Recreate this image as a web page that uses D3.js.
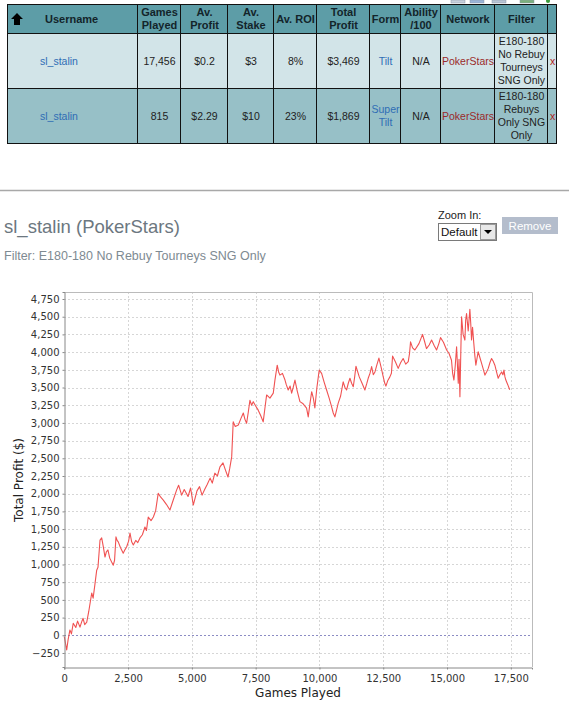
<!DOCTYPE html>
<html>
<head>
<meta charset="utf-8">
<script src="https://cdn.jsdelivr.net/npm/d3@7"></script>
<style>
  body { margin: 0; background: #fff; }
  svg { display: block; }
</style>
</head>
<body>
<svg id="page" width="569" height="717"></svg>
<script>
'use strict';

// table data
var headers = [['Username'], ['Games', 'Played'], ['Av.', 'Profit'], ['Av.', 'Stake'], ['Av. ROI'],
  ['Total', 'Profit'], ['Form'], ['Ability', '/100'], ['Network'], ['Filter'], ['']];
var usernames = ['sl_stalin', 'sl_stalin'];
var gamesPlayed = ['17,456', '815'];
var avProfit = ['$0.2', '$2.29'];
var avStake = ['$3', '$10'];
var avRoi = ['8%', '23%'];
var totalProfit = ['$3,469', '$1,869'];
var forms = [['Tilt'], ['Super', 'Tilt']];
var ability = ['N/A', 'N/A'];
var networks = ['PokerStars', 'PokerStars'];
var filters = [['E180-180', 'No Rebuy', 'Tourneys', 'SNG Only'], ['E180-180', 'Rebuys', 'Only SNG', 'Only']];

// chart data: [games played, total profit $]
var curve = [
  [0, -20], [94, -208], [150, -60], [220, 75], [280, 20], [350, 170], [450, 110], [520, 200],
  [615, 115], [680, 190], [735, 240], [800, 150], [880, 185], [960, 340], [1075, 597], [1130, 525],
  [1200, 720], [1270, 920], [1320, 960], [1400, 1345], [1465, 1375], [1530, 1250], [1595, 1105],
  [1650, 1180], [1710, 1205], [1780, 1090], [1855, 1035], [1920, 990], [1970, 1060], [2025, 1390],
  [2070, 1340], [2115, 1320], [2200, 1240], [2310, 1160], [2380, 1210], [2445, 1250], [2520, 1330],
  [2575, 1445], [2640, 1320], [2705, 1275], [2800, 1340], [2880, 1310], [2965, 1375], [3060, 1420],
  [3160, 1530], [3220, 1480], [3290, 1670], [3400, 1620], [3490, 1670], [3580, 1760], [3680, 2005],
  [3780, 1950], [3880, 1910], [4000, 1850], [4140, 1770], [4260, 1900], [4400, 2050], [4480, 2120],
  [4600, 1980], [4700, 2060], [4850, 1960], [4950, 2080], [5055, 1840], [5200, 2040], [5300, 2100],
  [5400, 1980], [5500, 2060], [5600, 2130], [5715, 2220], [5800, 2150], [5900, 2290], [6000, 2250],
  [6100, 2380], [6220, 2435], [6320, 2330], [6415, 2235], [6480, 2350], [6560, 2520], [6620, 3015],
  [6700, 2950], [6820, 2970], [6920, 3060], [7015, 3140], [7080, 3050], [7145, 2995], [7210, 3150],
  [7275, 3320], [7340, 3250], [7405, 3300], [7500, 3240], [7600, 3180], [7700, 3100], [7795, 3015],
  [7860, 3200], [7930, 3395], [8060, 3350], [8190, 3420], [8255, 3605], [8345, 3815], [8400, 3720],
  [8450, 3675], [8550, 3700], [8650, 3605], [8700, 3540], [8775, 3465], [8850, 3520], [8910, 3420],
  [8970, 3500], [9040, 3605], [9130, 3450], [9235, 3300], [9360, 3270], [9495, 3210], [9560, 3085],
  [9630, 3280], [9695, 3440], [9760, 3350], [9820, 3210], [9900, 3500], [9990, 3745], [10085, 3700],
  [10180, 3580], [10280, 3465], [10380, 3350], [10475, 3230], [10540, 3140], [10605, 3085],
  [10670, 3180], [10735, 3280], [10830, 3380], [10930, 3580], [11000, 3500], [11065, 3465],
  [11130, 3560], [11195, 3630], [11260, 3560], [11325, 3510], [11380, 3650], [11430, 3800],
  [11500, 3720], [11560, 3650], [11670, 3560], [11780, 3465], [11850, 3550], [11910, 3630],
  [11980, 3700], [12045, 3795], [12110, 3680], [12175, 3720], [12250, 3820], [12330, 3915],
  [12420, 3780], [12500, 3650], [12560, 3560], [12605, 3520], [12680, 3600], [12760, 3650],
  [12820, 3700], [12865, 3945], [12980, 3860], [13085, 3770], [13180, 3850], [13280, 3910],
  [13380, 3830], [13480, 3865], [13530, 3980], [13570, 4145], [13650, 4060], [13740, 4030],
  [13900, 4120], [14040, 4250], [14120, 4150], [14195, 4050], [14300, 4100], [14395, 4170],
  [14500, 4090], [14590, 4030], [14680, 4120], [14745, 4205], [14860, 4140], [14985, 4030],
  [15080, 3980], [15175, 3885], [15220, 3700], [15270, 3605], [15320, 3800], [15375, 4075],
  [15410, 3800], [15440, 3560], [15470, 3900], [15505, 3370], [15540, 4000], [15570, 4500],
  [15630, 4250], [15700, 4170], [15730, 4450], [15765, 4545], [15830, 4300], [15895, 4605],
  [15930, 4400], [15960, 4170], [16000, 4350], [16050, 4120], [16090, 3950], [16130, 3815],
  [16170, 3900], [16220, 4005], [16290, 3920], [16355, 3840], [16420, 3760], [16485, 3675],
  [16550, 3720], [16615, 3770], [16680, 3850], [16745, 3910], [16810, 3870], [16875, 3815],
  [16940, 3720], [17005, 3630], [17070, 3680], [17140, 3720], [17190, 3680], [17230, 3745],
  [17270, 3650], [17305, 3605], [17380, 3540], [17456, 3469]
];
var xTicks = [0, 2500, 5000, 7500, 10000, 12500, 15000, 17500];
var yTicks = d3.range(-250, 4751, 250);

var svg = d3.select('#page');
var TF = 'Liberation Sans, Arial, sans-serif';

// ---------- stats table ----------
var colX = [7, 137, 180, 227, 273, 316, 369, 400, 440, 494, 547, 556];
var rowY = [4, 33, 88, 143];
var rowFill = ['#5d9da7', '#d2e4e8', '#97c0c7'];

var table = svg.append('g');
for (var r = 0; r < 3; r++) {
  table.append('rect')
    .attr('x', colX[0]).attr('y', rowY[r])
    .attr('width', colX[colX.length - 1] - colX[0]).attr('height', rowY[r + 1] - rowY[r])
    .attr('fill', rowFill[r]);
}
colX.forEach(function (x) {
  table.append('line').attr('x1', x + 0.5).attr('x2', x + 0.5)
    .attr('y1', rowY[0]).attr('y2', rowY[3]).attr('stroke', '#111');
});
rowY.forEach(function (y) {
  table.append('line').attr('x1', colX[0]).attr('x2', colX[colX.length - 1] + 1)
    .attr('y1', y + 0.5).attr('y2', y + 0.5).attr('stroke', '#111');
});

// multi-line cell text, centred vertically in the row
var cellText = function (col, row, lines, color, weight, xPos, anchor) {
  var cx = xPos !== undefined ? xPos : (colX[col] + colX[col + 1]) / 2 + 1;
  var cy = (rowY[row] + rowY[row + 1]) / 2;
  var lh = 12.8;
  var t = table.append('text')
    .attr('font-family', TF).attr('font-size', weight ? 11 : 10.5)
    .attr('font-weight', weight || 'normal')
    .attr('fill', color || '#222')
    .attr('text-anchor', anchor || 'middle');
  lines.forEach(function (s, i) {
    t.append('tspan').attr('x', cx)
      .attr('y', cy + (i - (lines.length - 1) / 2) * lh + 4)
      .text(s);
  });
};

headers.forEach(function (h, i) {
  if (i === 0) cellText(0, 0, h, '#13242a', 'bold', 45, 'start');
  else cellText(i, 0, h, '#13242a', 'bold');
});
// sort arrow in the header
table.append('path')
  .attr('d', 'M17,13 L23,19 L20,19 L20,25 L14,25 L14,19 L11,19 Z')
  .attr('fill', '#000');

for (var k = 0; k < 2; k++) {
  cellText(0, k + 1, [usernames[k]], '#2f6db5', null, 40, 'start');
  cellText(1, k + 1, [gamesPlayed[k]]);
  cellText(2, k + 1, [avProfit[k]]);
  cellText(3, k + 1, [avStake[k]]);
  cellText(4, k + 1, [avRoi[k]]);
  cellText(5, k + 1, [totalProfit[k]]);
  cellText(6, k + 1, forms[k], '#2f6db5');
  cellText(7, k + 1, [ability[k]]);
  cellText(8, k + 1, [networks[k]], '#9b2a2a');
  cellText(9, k + 1, filters[k]);
  cellText(10, k + 1, ['x'], '#b02020');
}

// little toolbar icons peeking above the table
[[451, '#c8d0dc'], [470, '#9ab4d8'], [492, '#b8c4d4'], [520, '#7bb07b']].forEach(function (d) {
  table.append('rect').attr('x', d[0]).attr('y', 0).attr('width', 14).attr('height', 3)
    .attr('fill', d[1]).attr('stroke', '#8a96a8').attr('stroke-width', 0.5);
});
table.append('circle').attr('cx', 548).attr('cy', 1).attr('r', 2).attr('fill', '#3a9a3a');

// separator
svg.append('line').attr('x1', 0).attr('x2', 569).attr('y1', 190.5).attr('y2', 190.5)
  .attr('stroke', '#a8a8a8').attr('stroke-width', 1.5);

// ---------- titles & controls ----------
svg.append('text').attr('x', 4).attr('y', 233)
  .attr('font-family', TF).attr('font-size', 18.5).attr('fill', '#6c7780')
  .text('sl_stalin (PokerStars)');
svg.append('text').attr('x', 4).attr('y', 260)
  .attr('font-family', TF).attr('font-size', 12.5).attr('fill', '#7e8a92')
  .text('Filter: E180-180 No Rebuy Tourneys SNG Only');

svg.append('text').attr('x', 438).attr('y', 219)
  .attr('font-family', TF).attr('font-size', 11).attr('fill', '#222').text('Zoom In:');
svg.append('rect').attr('x', 438.5).attr('y', 223.5).attr('width', 58).attr('height', 17)
  .attr('fill', '#fff').attr('stroke', '#7a7a7a');
svg.append('text').attr('x', 441).attr('y', 236)
  .attr('font-family', TF).attr('font-size', 11.5).attr('fill', '#111').text('Default');
svg.append('rect').attr('x', 480.5).attr('y', 224.5).attr('width', 15).attr('height', 15)
  .attr('fill', '#e8e8e8').attr('stroke', '#9a9a9a');
svg.append('path').attr('d', 'M484,230 L492,230 L488,234 Z').attr('fill', '#000');
svg.append('rect').attr('x', 502).attr('y', 217).attr('width', 56).attr('height', 17)
  .attr('fill', '#b4bdcc');
svg.append('text').attr('x', 530).attr('y', 229.5).attr('text-anchor', 'middle')
  .attr('font-family', TF).attr('font-size', 11.5).attr('fill', '#fff').text('Remove');

// ---------- profit chart ----------
var x = d3.scaleLinear().domain([0, 18330]).range([64.3, 532]);
var y = d3.scaleLinear().domain([-448, 4849]).range([667, 292]);
var CF = 'DejaVu Sans, sans-serif';

var chart = svg.append('g');
chart.selectAll('.gx').data(xTicks.slice(1)).enter().append('line')
  .attr('x1', function (d) { return Math.round(x(d)) + 0.5; })
  .attr('x2', function (d) { return Math.round(x(d)) + 0.5; })
  .attr('y1', 292).attr('y2', 667)
  .attr('stroke', '#d6d6d6').attr('stroke-dasharray', '2,2');
chart.selectAll('.gy').data(yTicks).enter().append('line')
  .attr('x1', 64).attr('x2', 532)
  .attr('y1', function (d) { return Math.round(y(d)) + 0.5; })
  .attr('y2', function (d) { return Math.round(y(d)) + 0.5; })
  .attr('stroke', function (d) { return d === 0 ? '#8c8cc4' : '#d6d6d6'; })
  .attr('stroke-dasharray', '2,2');

// outline: top and right
chart.append('path').attr('d', 'M64,292.5 H532.5 V667')
  .attr('fill', 'none').attr('stroke', '#bbbbbb');

chart.append('path')
  .datum(curve)
  .attr('d', d3.line().x(function (d) { return x(d[0]); }).y(function (d) { return y(d[1]); }))
  .attr('fill', 'none').attr('stroke', '#f05252').attr('stroke-width', 1.1)
  .attr('stroke-linejoin', 'round');

var yAxis = chart.append('g').attr('transform', 'translate(64.5,0)')
  .call(d3.axisLeft(y).tickValues(yTicks).tickFormat(d3.format(',')).tickSize(2).tickPadding(3));
var xAxis = chart.append('g').attr('transform', 'translate(0,667.5)')
  .call(d3.axisBottom(x).tickValues(xTicks).tickFormat(d3.format(',')).tickSize(2).tickPadding(5));
[yAxis, xAxis].forEach(function (a) {
  a.select('.domain').attr('stroke', '#888');
  a.selectAll('.tick line').attr('stroke', '#888');
  a.selectAll('.tick text').attr('font-family', CF).attr('font-size', 10).attr('fill', '#333');
});

chart.append('text').attr('transform', 'translate(23,480) rotate(-90)')
  .attr('text-anchor', 'middle').attr('font-family', CF).attr('font-size', 12).attr('fill', '#222')
  .text('Total Profit ($)');
chart.append('text').attr('x', 298).attr('y', 697).attr('text-anchor', 'middle')
  .attr('font-family', CF).attr('font-size', 12).attr('fill', '#222')
  .text('Games Played');
</script>
</body>
</html>
